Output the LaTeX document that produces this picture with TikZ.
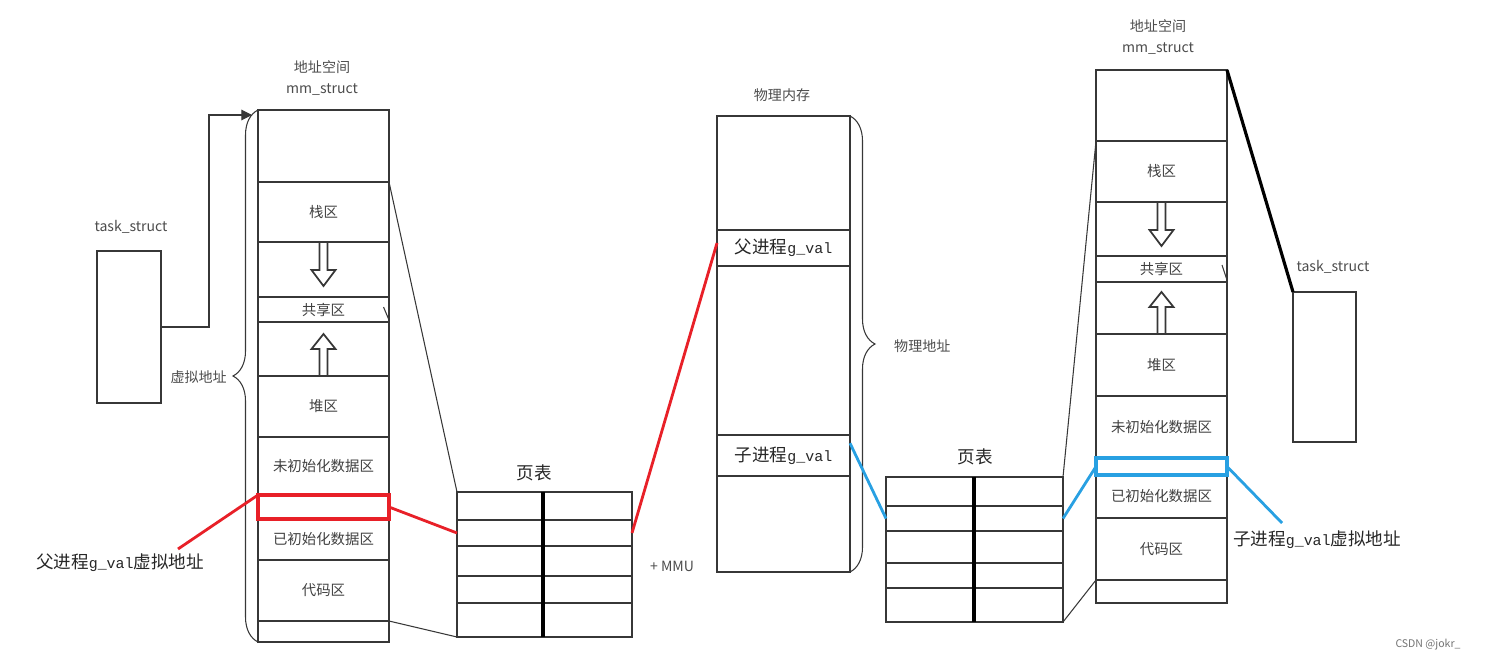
\documentclass[tikz,border=0pt]{standalone}
\usepackage{fontspec}
\setmainfont{Noto Sans CJK SC}
\setmonofont{Liberation Mono}
\usetikzlibrary{calc,arrows.meta,decorations.pathreplacing}

\definecolor{gvred}{RGB}{232,32,40}
\definecolor{gvblue}{RGB}{40,160,226}
\definecolor{edge}{RGB}{55,55,55}

% one box of a column: [style] name, x1, y1, x2, y2, text (pixel units)
\newcommand{\mcell}[7][]{%
  \node[segbox, #1, minimum width={(#5-#3)*0.02cm}, minimum height={(#6-#4)*0.02cm}]
    (#2) at ({(#3+#5)/2},{(#4+#6)/2}) {#7};}
\newcommand{\gv}{{\ttfamily\fontsize{8.5}{10}\selectfont g\_val}}

\tikzset{
  segbox/.style={draw=edge, line width=1pt, inner sep=0pt, outer sep=0pt,
    font=\fontsize{8.2}{10}\selectfont, text=black!75},
  gvbox/.style={draw=#1, line width=1.8pt},
  bigtext/.style={font=\fontsize{10}{12}\selectfont, text=black!85},
  smalltext/.style={font=\fontsize{8}{12}\selectfont, text=black!70, align=center},
  thinline/.style={draw=edge, line width=0.6pt},
  redline/.style={draw=gvred, line width=1.6pt},
  blueline/.style={draw=gvblue, line width=1.6pt},
  sinkarrow/.pic={\draw[edge, line width=1pt] (-4,0) -- (-4,28) -- (-12,28) -- (0,44) -- (12,28) -- (4,28) -- (4,0);},
  risearrow/.pic={\draw[edge, line width=1pt] (-4,0) -- (-4,-27) -- (-12,-27) -- (0,-42) -- (12,-27) -- (4,-27) -- (4,0);}
}

\begin{document}
\begin{tikzpicture}[x=0.02cm, y=-0.02cm]
    \useasboundingbox (0,0) rectangle (1490,659);

    % left task_struct and its mm_struct
    \mcell{ltask}{97}{251}{161}{403}{}
    \node[smalltext] (ltaskname) at (131,227) {task\_struct};
    \node[smalltext] (lmmname) at (322,78) {地址空间\\mm\_struct};
    \mcell{ltop}{258}{110}{389}{182}{}
    \mcell{lstack}{258}{182}{389}{242}{栈区}
    \mcell{ldown}{258}{242}{389}{297}{}
    \mcell{lshare}{258}{297}{389}{322}{共享区}
    \mcell{lup}{258}{322}{389}{376}{}
    \mcell{lheap}{258}{376}{389}{437}{堆区}
    \mcell{lbss}{258}{437}{389}{495}{未初始化数据区}
    \mcell{ldata}{258}{519}{389}{560}{已初始化数据区}
    \mcell{lcode}{258}{560}{389}{621}{代码区}
    \mcell{lbot}{258}{621}{389}{642}{}
    \mcell[gvbox=gvred]{lgval}{258}{495}{389}{519}{}
    \pic at (ldown.north) {sinkarrow};
    \pic at (lup.south) {risearrow};
    \draw[thinline] ([xshift=-0.11cm,yshift=-0.2cm]lshare.north east) -- ([yshift=0.04cm]lshare.south east);

    \draw[thinline, decorate, decoration={brace, amplitude=0.5cm}] (lbot.south west) -- (ltop.north west);
    \node[smalltext, anchor=east] (vname) at (233,377) {虚拟地址};
    \coordinate (lbend) at (209,115);
    \coordinate (lvtop) at (252,115);
    \draw[thinline, -{Triangle[length=6pt,width=6pt]}] (ltask.east) -| (lbend) -- (lvtop);

    % left page table
    \node[bigtext] (lptname) at (534,473) {页表};
    \foreach \a/\b [count=\i] in {492/520,520/546,546/576,576/603,603/637} {
      \mcell{lpt-\i-a}{457}{\a}{543}{\b}{}
      \mcell{lpt-\i-b}{543}{\a}{632}{\b}{}
    }
    \draw[line width=1.8pt] (lpt-1-a.north east) -- (lpt-5-a.south east);
    \node[smalltext] (mmu) at (672,566) {+ MMU};
    \draw[thinline] (lstack.north east) -- (lpt-1-a.north west);
    \draw[thinline] (lbot.north east) -- (lpt-5-a.south west);

    % physical memory
    \node[smalltext] (pmemname) at (782,95) {物理内存};
    \mcell{ptop}{717}{116}{850}{230}{}
    \mcell[bigtext]{pparent}{717}{230}{850}{266}{父进程\gv}
    \mcell{pmid}{717}{266}{850}{435}{}
    \mcell[bigtext]{pchild}{717}{435}{850}{476}{子进程\gv}
    \mcell{pbot}{717}{476}{850}{572}{}
    \draw[thinline, decorate, decoration={brace, amplitude=0.5cm}] (ptop.north east) -- (pbot.south east);
    \node[smalltext, anchor=west] (pname) at (888,346) {物理地址};

    % right page table
    \node[bigtext] (rptname) at (975,457) {页表};
    \foreach \a/\b [count=\i] in {477/506,506/531,531/563,563/588,588/622} {
      \mcell{rpt-\i-a}{886}{\a}{974}{\b}{}
      \mcell{rpt-\i-b}{974}{\a}{1063}{\b}{}
    }
    \draw[line width=1.8pt] (rpt-1-a.north east) -- (rpt-5-a.south east);

    % right mm_struct and task_struct
    \node[smalltext] (rmmname) at (1158,37) {地址空间\\mm\_struct};
    \mcell{rtop}{1096}{70}{1227}{141}{}
    \mcell{rstack}{1096}{141}{1227}{202}{栈区}
    \mcell{rdown}{1096}{202}{1227}{256}{}
    \mcell{rshare}{1096}{256}{1227}{282}{共享区}
    \mcell{rup}{1096}{282}{1227}{334}{}
    \mcell{rheap}{1096}{334}{1227}{396}{堆区}
    \mcell{rbss}{1096}{396}{1227}{458}{未初始化数据区}
    \mcell{rdata}{1096}{475}{1227}{518}{已初始化数据区}
    \mcell{rcode}{1096}{518}{1227}{580}{代码区}
    \mcell{rbot}{1096}{580}{1227}{603}{}
    \mcell[gvbox=gvblue]{rgval}{1096}{458}{1227}{475}{}
    \pic at (rdown.north) {sinkarrow};
    \pic at (rup.south) {risearrow};
    \draw[thinline] ([xshift=-0.1cm,yshift=-0.18cm]rshare.north east) -- ([yshift=0.04cm]rshare.south east);
    \mcell{rtask}{1293}{292}{1356}{442}{}
    \node[smalltext] (rtaskname) at (1333,267) {task\_struct};
    \draw[thinline] (rstack.north west) -- (rpt-1-b.north east);
    \draw[thinline] (rbot.north west) -- (rpt-5-b.south east);
    \draw[draw=black, line width=1.8pt] (rtop.north east) -- (rtask.north west);

    % g_val mappings
    \node[bigtext] (lgvname) at (120,563) {父进程\gv 虚拟地址};
    \coordinate (lgvend) at (178,549);
    \draw[redline] (lgval.north west) -- (lgvend);
    \draw[redline] (lgval.east) -- (lpt-2-a.west);
    \draw[redline] (lpt-2-b.east) -- ([yshift=0.1cm]pparent.west);
    \node[bigtext] (rgvname) at (1317,540) {子进程\gv 虚拟地址};
    \coordinate (rgvend) at (1282,523);
    \draw[blueline] ($(pchild.north east)!0.2!(pchild.south east)$) -- (rpt-2-a.west);
    \draw[blueline] (rpt-2-b.east) -- (rgval.west);
    \draw[blueline] (rgval.east) -- (rgvend);

    \node[font=\fontsize{6}{7}\selectfont, text=black!55] (mark) at (1428,645) {CSDN @jokr\_};
\end{tikzpicture}
\end{document}
